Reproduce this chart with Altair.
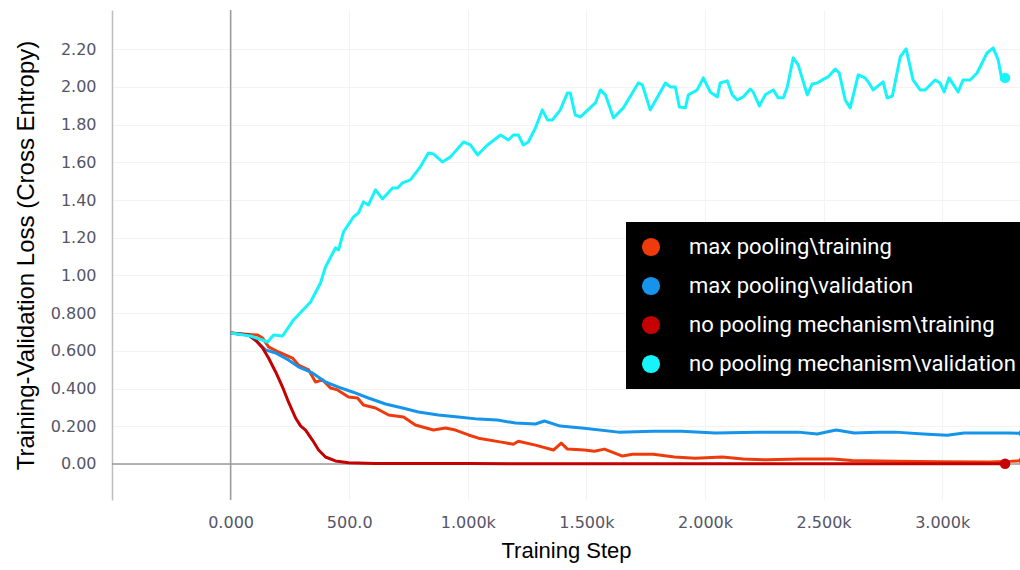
import altair as alt
import pandas as pd

# ---------------- data ----------------
series_names = [
    "max pooling\\training",
    "max pooling\\validation",
    "no pooling mechanism\\training",
    "no pooling mechanism\\validation",
]
series_colors = ["#ef3b0c", "#1594ea", "#c40000", "#17f3fa"]

mp_train_steps = [0, 114, 135, 160, 202, 261, 286, 329, 358, 388,
                  421, 451, 497, 535, 560, 611, 666, 729, 779, 855,
                  906, 948, 1003, 1045, 1142, 1192, 1213, 1285, 1361, 1394,
                  1420, 1491, 1534, 1576, 1652, 1694, 1782, 1871, 1959, 2073,
                  2161, 2262, 2400, 2540, 2620, 2800, 3000, 3200, 3290, 3345]
mp_train_loss = [0.695, 0.684, 0.668, 0.621, 0.594, 0.562, 0.525, 0.499, 0.435, 0.446,
                 0.403, 0.393, 0.355, 0.350, 0.313, 0.297, 0.260, 0.249, 0.207, 0.180,
                 0.191, 0.180, 0.154, 0.137, 0.116, 0.105, 0.121, 0.100, 0.074, 0.111,
                 0.079, 0.074, 0.068, 0.079, 0.042, 0.052, 0.052, 0.037, 0.031, 0.037,
                 0.026, 0.022, 0.027, 0.026, 0.018, 0.014, 0.012, 0.010, 0.014, 0.018]

mp_val_steps = [0, 76, 114, 147, 190, 244, 286, 345, 400, 455,
                514, 581, 653, 725, 792, 876, 960, 1045, 1125, 1201,
                1285, 1323, 1390, 1491, 1635, 1782, 1900, 2043, 2220, 2393,
                2473, 2553, 2629, 2730, 2802, 2920, 3021, 3092, 3168, 3282, 3345]
mp_val_loss = [0.695, 0.684, 0.647, 0.605, 0.589, 0.552, 0.515, 0.483, 0.435, 0.408,
               0.382, 0.350, 0.318, 0.297, 0.276, 0.260, 0.249, 0.238, 0.233, 0.217,
               0.212, 0.228, 0.201, 0.190, 0.169, 0.174, 0.174, 0.164, 0.169, 0.169,
               0.159, 0.180, 0.164, 0.169, 0.169, 0.159, 0.153, 0.164, 0.164, 0.164, 0.163]

np_train_steps = [0, 76, 105, 135, 160, 190, 219, 244, 274, 295,
                  316, 345, 371, 400, 442, 497, 611, 1000, 2000, 3265]
np_train_loss = [0.695, 0.684, 0.658, 0.615, 0.562, 0.488, 0.408, 0.329, 0.244, 0.202,
                 0.180, 0.127, 0.074, 0.037, 0.016, 0.006, 0.003, 0.002, 0.001, 0.001]

np_val_steps = [0, 84, 156, 181, 219, 265, 337, 379, 400, 442,
                455, 476, 518, 539, 560, 581, 611, 640, 683, 704,
                725, 758, 800, 834, 855, 893, 927, 982, 1011, 1041,
                1083, 1138, 1171, 1192, 1213, 1234, 1255, 1285, 1314, 1336,
                1357, 1390, 1420, 1432, 1453, 1475, 1538, 1559, 1580, 1614,
                1656, 1719, 1736, 1769, 1833, 1854, 1875, 1892, 1917, 1930,
                1967, 1993, 2022, 2052, 2064, 2094, 2115, 2136, 2161, 2191,
                2203, 2229, 2254, 2288, 2309, 2330, 2347, 2372, 2393, 2431,
                2452, 2473, 2494, 2519, 2549, 2566, 2591, 2612, 2646, 2675,
                2688, 2709, 2751, 2768, 2790, 2823, 2848, 2877, 2907, 2928,
                2970, 2991, 3008, 3029, 3067, 3088, 3118, 3147, 3189, 3215,
                3236, 3252, 3265]
np_val_loss = [0.695, 0.679, 0.647, 0.684, 0.679, 0.764, 0.859, 0.960, 1.045, 1.146,
               1.135, 1.231, 1.310, 1.332, 1.390, 1.374, 1.454, 1.406, 1.464, 1.464,
               1.491, 1.507, 1.576, 1.650, 1.645, 1.602, 1.629, 1.708, 1.692, 1.639,
               1.692, 1.745, 1.719, 1.745, 1.745, 1.692, 1.708, 1.782, 1.878, 1.825,
               1.825, 1.878, 1.968, 1.968, 1.851, 1.841, 1.915, 1.984, 1.958, 1.836,
               1.889, 2.021, 2.011, 1.878, 2.021, 2.000, 2.000, 1.894, 1.889, 1.958,
               1.984, 2.048, 1.973, 1.947, 2.021, 2.032, 1.958, 1.931, 1.947, 1.989,
               1.973, 1.899, 1.958, 1.984, 1.942, 1.942, 2.000, 2.154, 2.117, 1.958,
               2.016, 2.021, 2.037, 2.053, 2.095, 2.074, 1.931, 1.889, 2.064, 2.048,
               2.027, 1.984, 2.027, 1.942, 1.952, 2.159, 2.202, 2.037, 1.984, 1.984,
               2.037, 2.021, 1.973, 2.048, 1.973, 2.037, 2.037, 2.074, 2.180, 2.207,
               2.143, 2.037, 2.048]

x_tick_values = [0, 500, 1000, 1500, 2000, 2500, 3000]
y_tick_values = [0, 0.2, 0.4, 0.6, 0.8, 1.0, 1.2, 1.4, 1.6, 1.8, 2.0, 2.2]
x_domain = [-500, 3328]
y_domain = [-0.191, 2.408]

# ---------------- tables ----------------
frames = []
for name, st, ls in zip(series_names,
                        [mp_train_steps, mp_val_steps, np_train_steps, np_val_steps],
                        [mp_train_loss, mp_val_loss, np_train_loss, np_val_loss]):
    assert len(st) == len(ls), name
    frames.append(pd.DataFrame({"series": name, "step": st, "loss": ls}))
df = pd.concat(frames, ignore_index=True)
last = df.groupby("series", sort=False).tail(1).rename(columns={"series": "run"})

x_scale = alt.Scale(domain=x_domain, nice=False, zero=False)
y_scale = alt.Scale(domain=y_domain, nice=False, zero=False)

x_axis = alt.Axis(
    values=x_tick_values,
    labelExpr="datum.value == 0 ? '0.000' : (datum.value < 1000 ? format(datum.value, '.1f') : format(datum.value / 1000, '.3f') + 'k')",
    domain=False, ticks=False, grid=True, gridColor="#f3f3f3",
    labelFont="DejaVu Sans", labelFontSize=16, labelColor="#555566", labelPadding=14,
    title="Training Step", titleFont="Liberation Sans", titleFontSize=22,
    titleFontWeight="normal", titleColor="black", titlePadding=10,
)
y_axis = alt.Axis(
    values=y_tick_values,
    labelExpr="datum.value == 0 ? '0.00' : (datum.value >= 1 ? format(datum.value, '.2f') : format(datum.value, '.3f'))",
    domain=True, domainColor="#bdbdbd", domainWidth=1.5, ticks=False, grid=True, gridColor="#f3f3f3",
    labelFont="DejaVu Sans", labelFontSize=16, labelColor="#555566", labelPadding=16,
    title="Training-Validation Loss (Cross Entropy)", titleFont="Liberation Sans", titleFontSize=24,
    titleFontWeight="normal", titleColor="black", titlePadding=12,
)

zero_y = alt.Chart(pd.DataFrame({"v": [0]})).mark_rule(color="#9a9a9a", strokeWidth=1.5).encode(
    y=alt.Y("v:Q", scale=y_scale, axis=y_axis))
zero_x = alt.Chart(pd.DataFrame({"v": [0]})).mark_rule(color="#9a9a9a", strokeWidth=1.5).encode(
    x=alt.X("v:Q", scale=x_scale, axis=x_axis))

lines = alt.Chart(df).mark_line(strokeWidth=3, clip=True, strokeJoin="round").encode(
    x=alt.X("step:Q", scale=x_scale, axis=x_axis),
    y=alt.Y("loss:Q", scale=y_scale, axis=y_axis),
    stroke=alt.Stroke("series:N", scale=alt.Scale(domain=series_names, range=series_colors), legend=None),
    order=alt.Order("step:Q"),
)

dots = alt.Chart(last).mark_circle(size=110, opacity=1, clip=True).encode(
    x=alt.X("step:Q", scale=x_scale, axis=x_axis),
    y=alt.Y("loss:Q", scale=y_scale, axis=y_axis),
    fill=alt.Fill("run:N", scale=alt.Scale(domain=series_names, range=series_colors),
                  legend=alt.Legend(title=None, orient="none", legendX=514, legendY=212,
                                    symbolType="circle", symbolSize=330, symbolStrokeWidth=0,
                                    symbolOpacity=1,
                                    labelFont="Roboto", labelFontSize=22, labelColor="white",
                                    labelOffset=27, rowPadding=17, padding=14,
                                    fillColor="black", labelLimit=600)),
)

chart = alt.layer(zero_y, zero_x, lines, dots).resolve_scale(fill="independent", stroke="independent").properties(
    width=908, height=490,
    padding={"left": 112, "top": 10, "right": 0, "bottom": 70},
    autosize=alt.AutoSizeParams(type="none"),
    background="white",
).configure_view(strokeWidth=0)

chart.save("out.html", embed_options={"renderer": "svg", "actions": False})
